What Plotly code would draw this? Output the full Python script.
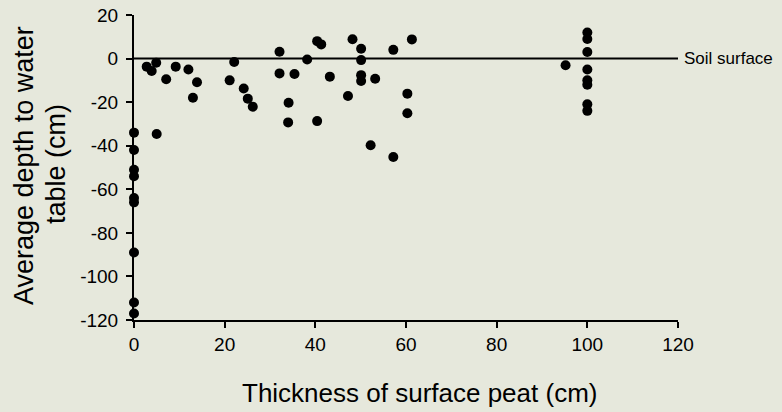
import plotly.graph_objects as go

# Data
peat_thickness = [0, 0, 0, 0, 0, 0, 0, 0, 0,
                  2.8, 3.9, 4.9, 5.0, 7.1, 9.2, 12.0, 13.0, 13.9,
                  21.1, 22.1, 24.2, 25.1, 26.2,
                  32.1, 32.1, 34.0, 34.1, 35.4, 38.2, 40.4, 41.3, 40.4, 43.2,
                  47.2, 48.2, 50.1, 50.1, 50.1, 50.1, 52.2, 53.2, 57.2, 57.2,
                  60.3, 60.3, 61.3, 95.2,
                  100, 100, 100, 100, 100, 100, 100, 100]
water_depth = [-34, -42, -51, -54, -64, -66, -89, -112, -117,
               -3.7, -5.7, -1.9, -34.6, -9.5, -3.7, -5.0, -18.0, -10.9,
               -10.0, -1.6, -13.7, -18.4, -22.1,
               3.1, -6.8, -29.3, -20.3, -7.1, -0.4, 8.0, 6.5, -28.7, -8.3,
               -17.2, 8.9, 4.5, -0.7, -7.6, -10.3, -39.8, -9.3, 4.0, -45.2,
               -16.1, -25.1, 8.8, -3.1,
               12, 9, 3, -5, -10, -12, -21, -24]

surface_x = [0, 120]
surface_y = [0, 0]

x_ticks = [0, 20, 40, 60, 80, 100, 120]
x_tick_labels = ["0", "20", "40", "60", "80", "100", "120"]
y_ticks = [-120, -100, -80, -60, -40, -20, 0, 20]
y_tick_labels = ["-120", "-100", "-80", "-60", "-40", "-20", "0", "20"]

FONT = "Liberation Sans, Arial, Helvetica, sans-serif"
BG = "#e6e8dc"

fig = go.Figure()
fig.add_trace(go.Scatter(x=surface_x, y=surface_y, mode="lines",
                         line=dict(color="black", width=2),
                         hoverinfo="skip", showlegend=False, cliponaxis=False))
fig.add_trace(go.Scatter(x=peat_thickness, y=water_depth, mode="markers",
                         marker=dict(color="black", size=10),
                         showlegend=False, cliponaxis=False))

L, R, T, B = 134, 104, 15, 92
W, H = 782, 412
pw, ph = W - L - R, H - T - B


def px(xp):
    return (xp - L) / pw


def py(yp):
    return (H - B - yp) / ph


fig.update_layout(
    width=W, height=H,
    margin=dict(l=L, r=R, t=T, b=B, autoexpand=False),
    paper_bgcolor=BG, plot_bgcolor=BG,
    font=dict(family=FONT, color="black"),
    xaxis=dict(range=[0, 120], tickvals=x_ticks, ticktext=x_tick_labels,
               ticks="outside", ticklen=6, automargin=False,
               tickwidth=2, tickcolor="black", showline=True, linewidth=2,
               linecolor="black", showgrid=False, zeroline=False,
               tickfont=dict(size=19, family=FONT, color="black")),
    yaxis=dict(range=[-120, 20], tickvals=y_ticks, ticktext=y_tick_labels,
               ticks="outside", ticklen=6, automargin=False,
               ticklabelstandoff=4,
               tickwidth=2, tickcolor="black", showline=True, linewidth=2,
               linecolor="black", showgrid=False, zeroline=False,
               tickfont=dict(size=19, family=FONT, color="black")),
    annotations=[
        dict(text="Soil surface", x=120, y=0, xref="x", yref="y",
             xanchor="left", yanchor="middle", xshift=4, showarrow=False,
             font=dict(size=17, family=FONT, color="black")),
        dict(text="Thickness of surface peat (cm)", x=px(419), y=py(393),
             xref="paper", yref="paper", xanchor="center", yanchor="middle",
             showarrow=False, font=dict(size=26, family=FONT, color="black")),
        dict(text="Average depth to water", x=px(24), y=py(166),
             xref="paper", yref="paper", xanchor="center", yanchor="middle",
             textangle=-90, showarrow=False,
             font=dict(size=27, family=FONT, color="black")),
        dict(text="table (cm)", x=px(56), y=py(164),
             xref="paper", yref="paper", xanchor="center", yanchor="middle",
             textangle=-90, showarrow=False,
             font=dict(size=27, family=FONT, color="black")),
    ],
)

fig.write_html("out.html",
               config={"displayModeBar": False},
               post_script="document.body.style.margin='0';"
                           "document.body.style.overflow='hidden';")
